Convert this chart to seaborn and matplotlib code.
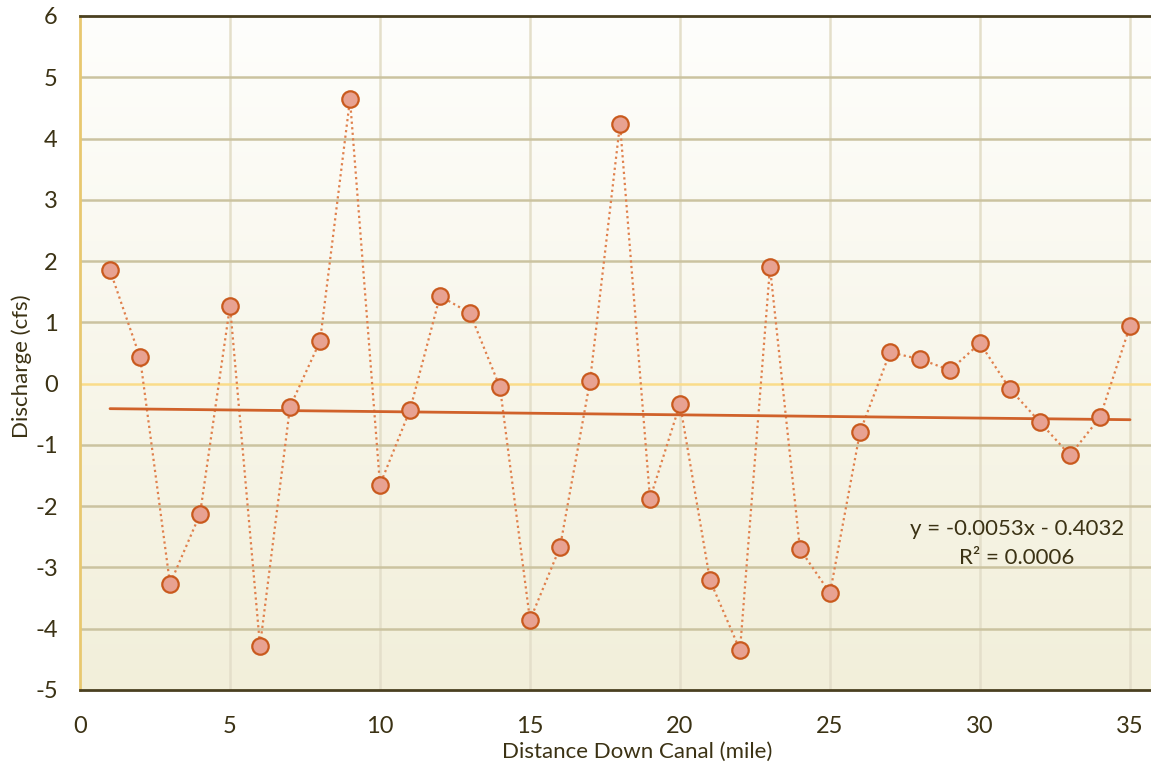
import matplotlib.pyplot as plt
import seaborn as sns
import numpy as np
import pandas as pd

# distance down canal (mile) and measured discharge (cfs)
miles = list(range(1, 36))
discharge = [1.85, 0.43, -3.27, -2.13, 1.27, -4.28, -0.38, 0.69, 4.64, -1.65,
             -0.43, 1.43, 1.15, -0.06, -3.86, -2.67, 0.04, 4.24, -1.88, -0.33,
             -3.21, -4.35, 1.90, -2.70, -3.42, -0.79, 0.51, 0.40, 0.22, 0.66,
             -0.09, -0.63, -1.17, -0.55, 0.94]

# linear trendline shown on the chart
slope = -0.0053
intercept = -0.4032
r2 = 0.0006

xticks = [0, 5, 10, 15, 20, 25, 30, 35]
yticks = [-5, -4, -3, -2, -1, 0, 1, 2, 3, 4, 5, 6]

df = pd.DataFrame({"mile": miles, "q": discharge})
trend = pd.DataFrame({"mile": [miles[0], miles[-1]]})
trend["q"] = slope * trend["mile"] + intercept

sns.set_style("white")
plt.rcParams['font.family'] = ['Lato', 'DejaVu Sans']
plt.rcParams['axes.unicode_minus'] = False
txt = "#3b3214"

fig = plt.figure(figsize=(11.51, 7.67), dpi=100)
ax = fig.add_axes([80 / 1151, 1 - 690 / 767, 1 - 80 / 1151, 674 / 767])

# gradient background (white at top -> light beige at bottom)
grad = np.linspace(0, 1, 256).reshape(-1, 1)
top = np.array([254, 254, 252]) / 255
bot = np.array([242, 239, 218]) / 255
img = top + (bot - top) * grad[..., None]
ax.imshow(img, extent=[0, 1, 0, 1], transform=ax.transAxes, aspect="auto", zorder=0)

ax.set_xlim(0, 35.7)
ax.set_ylim(-5, 6)
ax.set_xticks(xticks)
ax.set_yticks(yticks)

for x in xticks[1:]:
    ax.axvline(x, color="#e4dfca", lw=1.8, zorder=1)
for y in yticks[1:-1]:
    if y == 0:
        ax.axhline(y, color="#fadc8a", lw=1.8, zorder=1)
    else:
        ax.axhline(y, color="#cbc3a0", lw=1.8, zorder=1)

sns.lineplot(data=df, x="mile", y="q", ax=ax, color="#e0804c", lw=1.6,
             linestyle=(0, (1, 1.5)), zorder=2)
sns.lineplot(data=trend, x="mile", y="q", ax=ax, color="#d0622a", lw=2, zorder=3)
sns.scatterplot(data=df, x="mile", y="q", ax=ax, s=140, color="#e8a292",
                edgecolor="#c95a1e", linewidth=1.6, zorder=4)

ax.text(31.23, -2.37, f"y = {slope}x - {abs(intercept)}", ha="center", va="center",
        fontsize=16, color=txt)
ax.text(31.23, -2.85, f"R² = {r2}", ha="center", va="center", fontsize=16, color=txt)

ax.spines["right"].set_visible(False)
ax.spines["top"].set_color("#4a4020")
ax.spines["top"].set_linewidth(2)
ax.spines["bottom"].set_color("#4a4020")
ax.spines["bottom"].set_linewidth(2)
ax.spines["left"].set_color("#e8c870")
ax.spines["left"].set_linewidth(2)

ax.tick_params(axis="both", length=0, labelsize=17, labelcolor=txt)
ax.tick_params(axis="x", pad=19)
ax.tick_params(axis="y", pad=16)
ax.set_xlabel("Distance Down Canal (mile)", fontsize=16, color=txt)
ax.set_ylabel("Discharge (cfs)", fontsize=16, color=txt)
ax.xaxis.set_label_coords(0.52, -0.077)
ax.yaxis.set_label_coords(-0.045, 0.48)

fig.savefig("out.png", dpi=100)
